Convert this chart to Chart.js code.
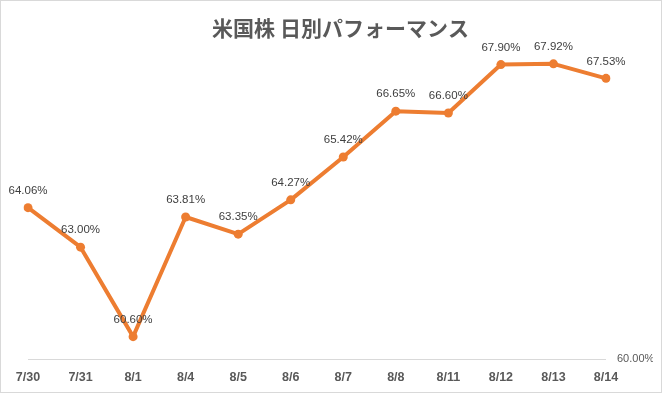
<!DOCTYPE html>
<html><head><meta charset="utf-8">
<script src="https://cdn.jsdelivr.net/npm/chart.js@4.4.1/dist/chart.umd.min.js"></script>
<style>
html,body{margin:0;padding:0;background:#fff;}
#wrap{width:660px;height:391px;border:1px solid #d9d9d9;position:relative;}
</style></head>
<body><div id="wrap"><canvas id="c" width="660" height="391"></canvas></div>
<script>
const categories = ["7/30","7/31","8/1","8/4","8/5","8/6","8/7","8/8","8/11","8/12","8/13","8/14"];
const performance = [64.06,63.00,60.60,63.81,63.35,64.27,65.42,66.65,66.60,67.90,67.92,67.53];
const axisLabel = 60;
const chartTitle = "米国株 日別パフォーマンス";

const labelPlugin = {
  id:'pointLabels',
  afterDatasetsDraw(chart){
    const ctx = chart.ctx;
    const meta = chart.getDatasetMeta(0);
    ctx.save();
    ctx.font = '11.5px "Liberation Sans", Arial, sans-serif';
    ctx.fillStyle = '#404040';
    ctx.textAlign = 'center';
    ctx.textBaseline = 'middle';
    meta.data.forEach((pt,i)=>{
      ctx.fillText(performance[i].toFixed(2)+'%', pt.x, pt.y-17);
    });
    ctx.restore();
  }
};

new Chart(document.getElementById('c'), {
  type:'line',
  data:{labels:categories, datasets:[{
    data:performance,
    borderColor:'#ED7D31', backgroundColor:'#ED7D31',
    borderWidth:4, pointRadius:4.5, pointHoverRadius:4.5,
    pointBorderWidth:0, borderJoinStyle:'round', borderCapStyle:'round',
    tension:0
  }]},
  options:{
    responsive:false, animation:false,
    layout:{padding:{left:27,right:8,top:0,bottom:4}},
    plugins:{
      legend:{display:false}, tooltip:{enabled:false},
      title:{display:true, text:chartTitle, color:'#595959',
        font:{family:'"Noto Sans CJK JP", sans-serif', size:21, weight:'bold'},
        padding:{top:14,bottom:2}}
    },
    scales:{
      x:{offset:false, grid:{display:false}, border:{display:false},
        ticks:{color:'#595959', padding:3, maxRotation:0, autoSkip:false,
          font:{family:'"Liberation Sans", Arial, sans-serif', size:12.5, weight:'bold'}}},
      y:{position:'right', min:60, max:68.5,
        afterFit(s){ s.width = 47; },
        grid:{drawTicks:false, color:(c)=> c.tick && c.tick.value===axisLabel ? '#d9d9d9' : 'rgba(0,0,0,0)'},
        border:{display:false},
        ticks:{stepSize:1, padding:11, color:'#595959',
          font:{family:'"Liberation Sans", Arial, sans-serif', size:11},
          callback:(v)=> v===axisLabel ? v.toFixed(2)+'%' : ''}}
    }
  },
  plugins:[labelPlugin]
});
</script></body></html>
